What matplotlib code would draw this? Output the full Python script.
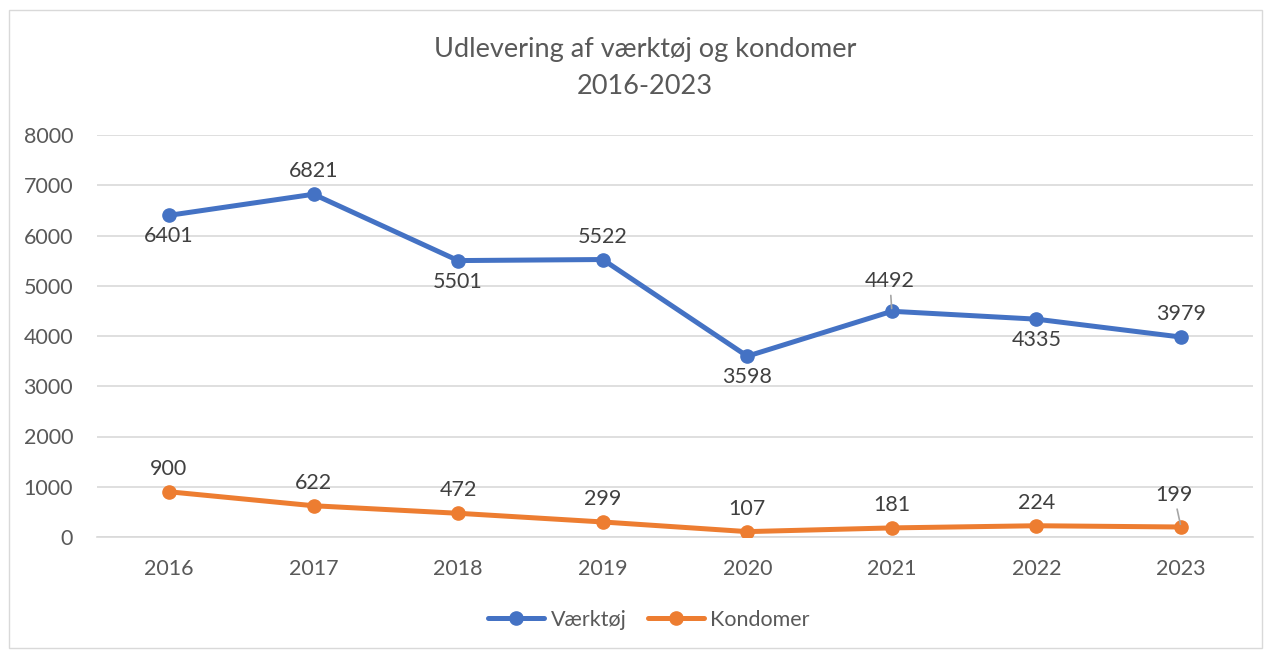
import matplotlib.pyplot as plt
from matplotlib.patches import Rectangle

years = ["2016", "2017", "2018", "2019", "2020", "2021", "2022", "2023"]
vaerktoej = [6401, 6821, 5501, 5522, 3598, 4492, 4335, 3979]
kondomer = [900, 622, 472, 299, 107, 181, 224, 199]
# label placement per point: "above" / "below"
vaerk_pos = ["below", "above", "below", "above", "below", "above", "below", "above"]
kond_pos = ["above"] * 8

plt.rcParams["font.family"] = ["Lato", "DejaVu Sans"]

BLUE = "#4472C4"
ORANGE = "#ED7D31"
PX = 72 / 100  # pixels -> points

fig = plt.figure(figsize=(12.71, 6.52), dpi=100)
fig.patches.append(Rectangle((9 / 1271, 4 / 652), 1253 / 1271, 638 / 652,
                             transform=fig.transFigure, fill=False,
                             edgecolor="#D9D9D9", linewidth=1))
ax = fig.add_axes([96.7 / 1271, 1 - 537 / 652, 1156.6 / 1271, 402 / 652])

x = list(range(len(years)))
ax.plot(x, vaerktoej, color=BLUE, linewidth=3.6, marker="o", markersize=9.5,
        label="Værktøj", zorder=3, solid_capstyle="round")
ax.plot(x, kondomer, color=ORANGE, linewidth=3.6, marker="o", markersize=9.5,
        label="Kondomer", zorder=3, solid_capstyle="round")

ax.set_xlim(-0.5, len(years) - 0.5)
ax.set_ylim(0, 8000)
ax.set_yticks(range(0, 8001, 1000))
ax.set_xticks(x)
ax.set_xticklabels(years)
ax.yaxis.grid(True, color="#D9D9D9", linewidth=1.2)
ax.set_axisbelow(True)
for s in ["top", "right", "left"]:
    ax.spines[s].set_visible(False)
ax.spines["bottom"].set_color("#D9D9D9")
ax.spines["bottom"].set_linewidth(1.2)
ax.tick_params(length=0, labelsize=15.5, colors="#595959")
ax.tick_params(axis="x", pad=16)
ax.tick_params(axis="y", pad=17)

# special labels with leader lines: index -> (dx px, dy px)
leader_v = {5: (-2, 30)}
leader_k = {7: (-7, 32)}


def put_labels(vals, pos, leaders):
    for i, v in enumerate(vals):
        if i in leaders:
            dx, dy = leaders[i]
            ax.annotate(str(v), (i, v), xytext=(dx * PX, dy * PX),
                        textcoords="offset points", ha="center", va="center",
                        fontsize=15.5, color="#404040",
                        arrowprops=dict(arrowstyle="-", color="#A6A6A6", lw=1.2,
                                        shrinkA=1, shrinkB=2))
        else:
            dy = 23 if pos[i] == "above" else -21
            ax.annotate(str(v), (i, v), xytext=(0, dy * PX),
                        textcoords="offset points", ha="center", va="center",
                        fontsize=15.5, color="#404040")


put_labels(vaerktoej, vaerk_pos, leader_v)
put_labels(kondomer, kond_pos, leader_k)

fig.text(645 / 1271, 1 - 50 / 652, "Udlevering af værktøj og kondomer",
         ha="center", va="center", fontsize=19.5, color="#595959")
fig.text(645 / 1271, 1 - 86 / 652, "2016-2023",
         ha="center", va="center", fontsize=19.5, color="#595959")

fig.legend(loc="center", bbox_to_anchor=(649 / 1271, 1 - 620 / 652), ncol=2,
           frameon=False, fontsize=15.5, labelcolor="#595959",
           handlelength=2.6, columnspacing=1.0, handletextpad=0.3)

fig.savefig("out.png", dpi=100, facecolor="white")
